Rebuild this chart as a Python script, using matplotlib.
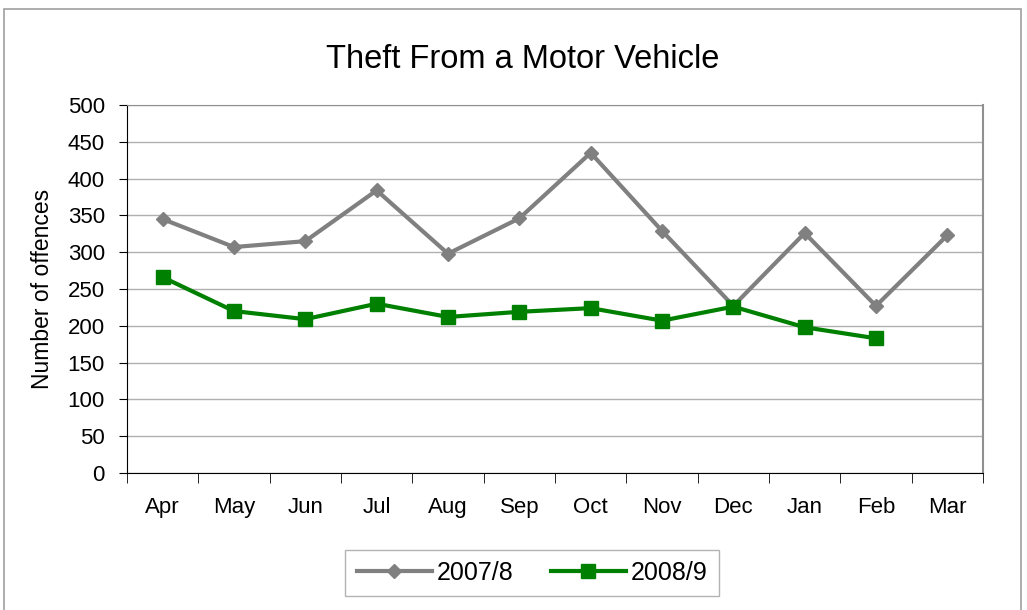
import matplotlib.pyplot as plt
import matplotlib.patches as mpatches
import numpy as np

plt.rcParams['font.family'] = ['Liberation Sans', 'DejaVu Sans']

months = ["Apr", "May", "Jun", "Jul", "Aug", "Sep", "Oct", "Nov", "Dec", "Jan", "Feb", "Mar"]
y2007 = [345, 307, 315, 384, 298, 346, 435, 329, 227, 326, 227, 323]
y2008 = [266, 220, 209, 230, 212, 219, 224, 207, 226, 198, 183]

fig = plt.figure(figsize=(10.27, 6.1), dpi=100)
ax = fig.add_axes([127/1027, 1-473/610, (983-127)/1027, (473-105)/610])

# outer chart border
fig.patches.append(mpatches.Rectangle((4/1027, -0.01), (1021-4)/1027, 1-9/610+0.01,
                                      transform=fig.transFigure, fill=False,
                                      edgecolor='#a0a0a0', linewidth=1.2))

x = np.arange(len(months))
ax.plot(x, y2007, color='#808080', lw=3, marker='D', ms=7.5, label='2007/8', zorder=3)
ax.plot(x[:len(y2008)], y2008, color='#008000', lw=3, marker='s', ms=9.5, label='2008/9', zorder=3)

ax.set_xlim(-0.5, len(months) - 0.5)
ax.set_ylim(0, 500)
ax.set_yticks(np.arange(0, 501, 50))
ax.yaxis.grid(True, color='#b0b0b0', lw=1)
ax.set_axisbelow(True)

ax.set_xticks(x)
ax.set_xticklabels(months)
ax.set_xticks(np.arange(-0.5, len(months)), minor=True)
ax.tick_params(axis='x', which='major', length=0, pad=17, labelsize=16)
ax.tick_params(axis='x', which='minor', length=7, direction='out', color='black')
ax.tick_params(axis='y', length=6, direction='out', labelsize=16, pad=10)

ax.spines['top'].set_color('#909090')
ax.spines['right'].set_color('#909090')
ax.spines['right'].set_linewidth(1.5)
ax.spines['left'].set_color('black')
ax.spines['bottom'].set_color('black')

ax.set_ylabel('Number of offences', fontsize=16.5, labelpad=10)
fig.text(523/1027, 1-60/610, 'Theft From a Motor Vehicle', ha='center', va='center', fontsize=23.5)

leg = fig.legend(loc='center', bbox_to_anchor=(532/1027, 1-573/610), ncol=2,
                 fontsize=18, frameon=True, fancybox=False, edgecolor='#a0a0a0',
                 handlelength=3, columnspacing=1.5, handletextpad=0.2,
                 borderpad=0.45)
leg.get_frame().set_linewidth(1)

fig.savefig('out.png', dpi=100)
